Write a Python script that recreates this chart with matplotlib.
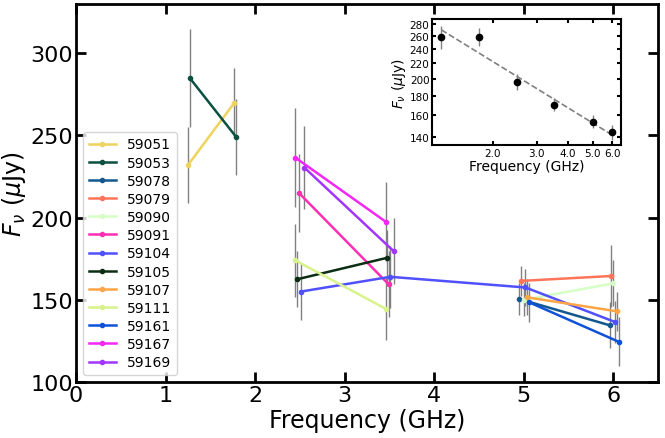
import matplotlib
matplotlib.use("Agg")
import matplotlib.pyplot as plt
import matplotlib.ticker as mticker
import numpy as np

plt.rcParams["font.family"] = "DejaVu Sans"

# epochs (MJD) and their two/three frequency points
epochs = ["59051", "59053", "59078", "59079", "59090", "59091", "59104",
          "59105", "59107", "59111", "59161", "59167", "59169"]
colors = ["#efd35f", "#0b5040", "#13588f", "#ff7559", "#d5ffc4", "#ff2fb4",
          "#5050ff", "#0b2e13", "#ffa545", "#d8f28c", "#0f52d8", "#f428f4",
          "#a236ff"]
freqs = [
    [1.25, 1.77],
    [1.27, 1.79],
    [4.95, 5.96],
    [4.97, 5.98],
    [5.00, 6.00],
    [2.49, 3.49],
    [2.51, 3.51, 5.02, 6.02],
    [2.47, 3.47],
    [5.04, 6.04],
    [2.45, 3.46],
    [5.06, 6.06],
    [2.45, 3.46],
    [2.55, 3.55],
]
fluxes = [
    [232, 270],
    [285, 249],
    [150.5, 134.5],
    [161.5, 164.5],
    [150, 160],
    [215, 159.5],
    [155, 164, 157.5, 136.5],
    [162.5, 175.5],
    [151.5, 143],
    [174, 144.5],
    [148.5, 124.5],
    [236.5, 197.5],
    [230.5, 179.5],
]
errors = [
    [23, 21],
    [30, 23],
    [10, 14],
    [9, 19],
    [10, 14],
    [24, 20],
    [17, 19, 11, 13],
    [17, 17],
    [11, 12],
    [22, 19],
    [12, 15],
    [30, 24],
    [25, 20],
]

# averaged spectrum for the inset
avg_freq = [1.25, 1.77, 2.5, 3.5, 5.0, 6.0]
avg_flux = [259, 259.5, 196, 170.5, 153.5, 143.8]
avg_err = [18, 15, 9.5, 7, 6, 6.5]

fig = plt.figure(figsize=(6.65, 4.39), dpi=100)
ax = fig.add_axes([0.1143, 0.1276, 0.8752, 0.861])

for i in range(len(epochs)):
    ax.errorbar(freqs[i], fluxes[i], yerr=errors[i], fmt="none", ecolor="grey",
                elinewidth=1, capsize=0, zorder=1)
    ax.plot(freqs[i], fluxes[i], marker=".", markersize=6, lw=1.8,
            color=colors[i], label=epochs[i], zorder=2)

ax.set_xlim(0, 6.5)
ax.set_ylim(100, 330)
ax.set_yticks([100, 150, 200, 250, 300])
ax.set_xlabel("Frequency (GHz)", fontsize=17, labelpad=2)
ax.set_ylabel(r"$F_\nu$ ($\mu$Jy)", fontsize=17, labelpad=2)
ax.tick_params(direction="in", which="both", top=True, right=True,
               length=7, width=2, labelsize=16, pad=2)
for s in ax.spines.values():
    s.set_linewidth(2)
ax.legend(loc="lower left", bbox_to_anchor=(0.0, 0.0), fontsize=10,
          labelspacing=0.3, handlelength=2, borderpad=0.4)

# inset: average spectrum with power-law fit
axi = fig.add_axes([0.650, 0.667, 0.284, 0.287])
axi.errorbar(avg_freq, avg_flux, yerr=avg_err, fmt="o", color="black",
             ecolor="grey", elinewidth=1, markersize=4.5, capsize=0)
lx = np.log10(avg_freq)
ly = np.log10(avg_flux)
w = np.array(avg_flux) / np.array(avg_err)
p = np.polyfit(lx, ly, 1, w=w)
xf = np.array([avg_freq[0], avg_freq[-1]])
axi.plot(xf, 10 ** np.polyval(p, np.log10(xf)), ls="--", color="grey", lw=1.2)
axi.set_xscale("log")
axi.set_yscale("log")
axi.set_xlim(1.15, 6.5)
axi.set_ylim(132.7, 289)
axi.xaxis.set_minor_locator(mticker.NullLocator())
axi.yaxis.set_minor_locator(mticker.NullLocator())
axi.set_xticks([2, 3, 4, 5, 6])
axi.xaxis.set_major_formatter(mticker.FormatStrFormatter("%.1f"))
axi.set_yticks([140, 160, 180, 200, 220, 240, 260, 280])
axi.yaxis.set_major_formatter(mticker.FormatStrFormatter("%d"))
axi.tick_params(direction="in", top=True, right=True, length=3, width=1.5,
                labelsize=7.5, pad=2)
axi.set_xlabel("Frequency (GHz)", fontsize=10, labelpad=1)
axi.set_ylabel(r"$F_\nu$ ($\mu$Jy)", fontsize=10, labelpad=1)
for s in axi.spines.values():
    s.set_linewidth(1.5)

fig.savefig("out.png", dpi=100)
